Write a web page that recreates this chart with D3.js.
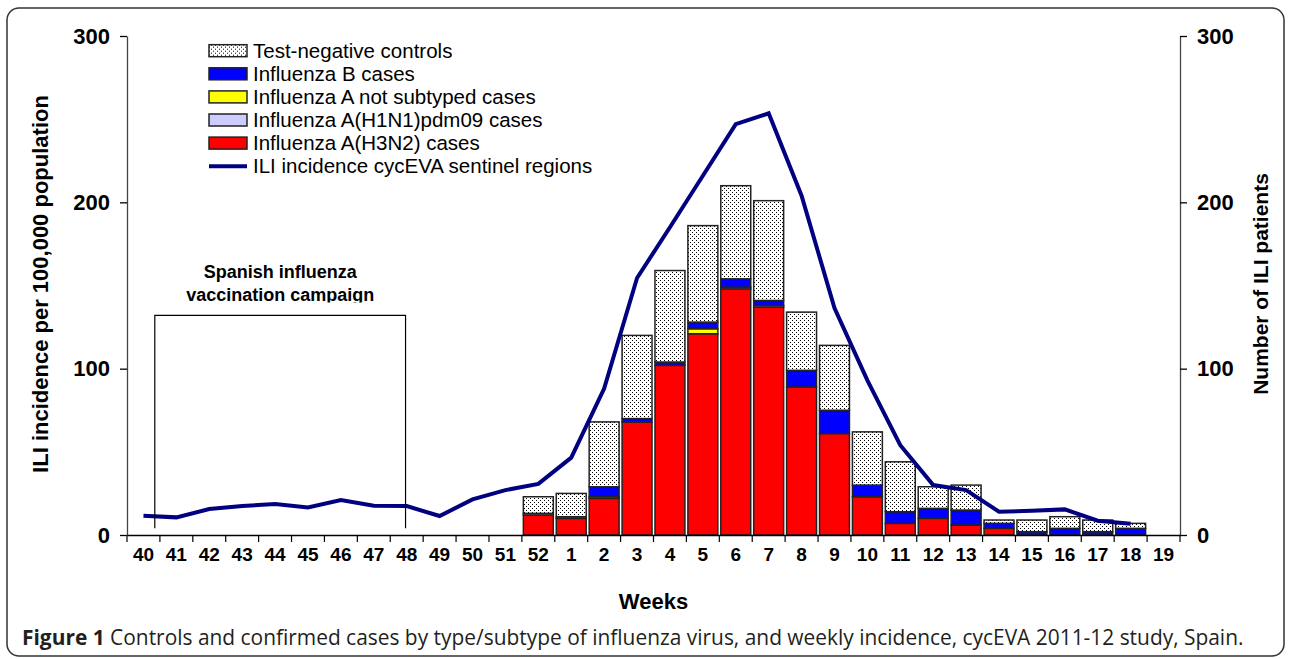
<!DOCTYPE html>
<html>
<head>
<meta charset="utf-8">
<script src="https://cdn.jsdelivr.net/npm/d3@7"></script>
<style>
body { margin: 0; background: #fff; }
svg { display: block; }
</style>
</head>
<body>
<script>
// weeks of the 2011-12 season
var weeks = ["40","41","42","43","44","45","46","47","48","49","50","51","52",
             "1","2","3","4","5","6","7","8","9","10","11","12","13","14","15","16","17","18","19"];

// number of ILI patients per week, by type
var h3n2     = [0,0,0,0,0,0,0,0,0,0,0,0,12, 10,22,68,102,121,148,137,89,61,23,7,10,6,4,0,0,0,0,0];
var h1n1     = [0,0,0,0,0,0,0,0,0,0,0,0,1,  1,1,0,0,0,1,1,0,0,0,0,0,0,0,0,0,0,0,0];
var notSub   = [0,0,0,0,0,0,0,0,0,0,0,0,0,  0,0,0,0,3,0,0,0,0,0,0,0,0,0,0,0,0,0,0];
var fluB     = [0,0,0,0,0,0,0,0,0,0,0,0,0,  0,6,2,2,4,5,3,10,14,7,7,6,9,3,2,4,2,4,0];
var controls = [0,0,0,0,0,0,0,0,0,0,0,0,10, 14,39,50,55,58,56,60,35,39,32,30,13,15,2,7,7,7,3,0];

// ILI incidence per 100,000 (cycEVA sentinel regions)
var incidence = [11.6,10.6,15.6,17.4,18.6,16.6,21,17.6,17.4,11.4,21.4,27,30.7,
                 46.5,88,154.5,185,216,247,253.5,204,136.5,93,54,30,27,14,14.6,15.4,8.6,6.8,null];

var yTicks = [0,100,200,300];

// vaccination campaign, from week 40 to week 48 (fraction = position inside the week)
var campaign = {from: "40", fromFrac: 0.8, to: "48", toFrac: 0.42, top: 132, bottom: 4};

var legendLabels = ["Test-negative controls", "Influenza B cases", "Influenza A not subtyped cases",
                    "Influenza A(H1N1)pdm09 cases", "Influenza A(H3N2) cases", "ILI incidence cycEVA sentinel regions"];

var keys = ["h3n2","h1n1","notSub","fluB","controls"];
var fills = {h3n2: "#ff0000", h1n1: "#ccccff", notSub: "#ffff00", fluB: "#0000ff", controls: "url(#dots)"};
var legendFills = ["url(#dots)", "#0000ff", "#ffff00", "#ccccff", "#ff0000", null];

var W = 1289, H = 659;
var FONT = "Arial, 'Liberation Sans', Helvetica, sans-serif";
var svg = d3.select("body").append("svg").attr("width", W).attr("height", H)
    .style("font-family", FONT);

var defs = svg.append("defs");
var pat = defs.append("pattern").attr("id", "dots")
    .attr("width", 4).attr("height", 4).attr("patternUnits", "userSpaceOnUse");
pat.append("rect").attr("width", 4).attr("height", 4).attr("fill", "#fff");
pat.append("rect").attr("x", 0).attr("y", 0).attr("width", 1).attr("height", 1).attr("fill", "#000");
pat.append("rect").attr("x", 2).attr("y", 2).attr("width", 1).attr("height", 1).attr("fill", "#000");

// outer frame
svg.append("rect").attr("x", 7).attr("y", 8).attr("width", 1277).attr("height", 648)
    .attr("rx", 12).attr("fill", "none").attr("stroke", "#333").attr("stroke-width", 1.5);

var plotL = 127, plotR = 1180, plotT = 36, plotB = 535;

var x = d3.scaleBand().domain(weeks).range([plotL, plotR]).paddingInner(0.09).paddingOuter(0.045);
var yBars = d3.scaleLinear().domain([0, 300]).range([plotB, plotT]);
var yLine = d3.scaleLinear().domain([0, 300]).range([plotB, plotT]);

// stacked bars
var rows = weeks.map(function(w, i) {
    return {week: w, h3n2: h3n2[i], h1n1: h1n1[i], notSub: notSub[i], fluB: fluB[i], controls: controls[i]};
});
var series = d3.stack().keys(keys)(rows);

svg.append("g").selectAll("g")
    .data(series)
    .enter().append("g")
    .attr("fill", function(s) { return fills[s.key]; })
    .selectAll("rect")
    .data(function(s) { return s.filter(function(d) { return d[1] - d[0] > 0; }); })
    .enter().append("rect")
    .attr("x", function(d) { return x(d.data.week); })
    .attr("width", x.bandwidth())
    .attr("y", function(d) { return yBars(d[1]); })
    .attr("height", function(d) { return yBars(d[0]) - yBars(d[1]); })
    .attr("stroke", "#222")
    .attr("stroke-width", 1.5);

// axes
var yl = svg.append("g").attr("transform", "translate(" + plotL + ",0)")
    .call(d3.axisLeft(yLine).tickValues(yTicks).tickSize(7).tickSizeOuter(0).tickPadding(10));
var yr = svg.append("g").attr("transform", "translate(" + plotR + ",0)")
    .call(d3.axisRight(yBars).tickValues(yTicks).tickSize(7).tickSizeOuter(0).tickPadding(10));
[yl, yr].forEach(function(g) {
    g.selectAll("text").attr("font-size", 22).attr("font-weight", "bold").attr("fill", "#000")
        .style("font-family", FONT);
    g.select(".domain").attr("stroke", "#444").attr("stroke-width", 1.3);
    g.selectAll(".tick line").attr("stroke", "#000").attr("stroke-width", 1.3);
});

var xa = svg.append("g").attr("transform", "translate(0," + plotB + ")")
    .call(d3.axisBottom(x).tickSize(0).tickSizeOuter(0).tickPadding(13));
xa.selectAll("text").attr("font-size", 19).attr("font-weight", "bold").attr("fill", "#000")
    .style("font-family", FONT);
xa.select(".domain").attr("stroke", "#000").attr("stroke-width", 1.3);

// ticks between weeks
svg.append("g").selectAll("line")
    .data(d3.range(weeks.length + 1))
    .enter().append("line")
    .attr("x1", function(i) { return plotL + i * x.step(); })
    .attr("x2", function(i) { return plotL + i * x.step(); })
    .attr("y1", plotB).attr("y2", plotB + 7)
    .attr("stroke", "#000").attr("stroke-width", 1.2);

// incidence line
var line = d3.line()
    .defined(function(d) { return d.v != null; })
    .x(function(d) { return x(d.w) + x.bandwidth() / 2; })
    .y(function(d) { return yLine(d.v); });
svg.append("path")
    .datum(weeks.map(function(w, i) { return {w: w, v: incidence[i]}; }))
    .attr("d", line)
    .attr("fill", "none").attr("stroke", "#000080").attr("stroke-width", 4)
    .attr("stroke-linejoin", "miter");

// vaccination campaign bracket
var cx0 = x(campaign.from) + campaign.fromFrac * x.step();
var cx1 = x(campaign.to) + campaign.toFrac * x.step();
var cyT = yLine(campaign.top), cyB = yLine(campaign.bottom);
svg.append("path")
    .attr("d", "M" + cx0 + "," + cyB + "V" + cyT + "H" + cx1 + "V" + cyB)
    .attr("fill", "none").attr("stroke", "#000").attr("stroke-width", 1.2);

defs.append("clipPath").attr("id", "campClip")
    .append("rect").attr("x", 0).attr("y", 0).attr("width", W).attr("height", cyT - 13);
var ct = svg.append("text").attr("clip-path", "url(#campClip)")
    .attr("text-anchor", "middle").attr("font-size", 18).attr("font-weight", "bold");
ct.append("tspan").attr("x", (cx0 + cx1) / 2).attr("y", cyT - 37).text("Spanish influenza");
ct.append("tspan").attr("x", (cx0 + cx1) / 2).attr("y", cyT - 14).text("vaccination campaign");

// legend
var lg = svg.append("g").selectAll("g")
    .data(legendLabels)
    .enter().append("g")
    .attr("transform", function(d, i) { return "translate(209," + (50.7 + i * 23.1) + ")"; });
lg.each(function(d, i) {
    var g = d3.select(this);
    if (legendFills[i]) {
        g.append("rect").attr("x", 0).attr("y", -6).attr("width", 38).attr("height", 12)
            .attr("fill", legendFills[i]).attr("stroke", "#222").attr("stroke-width", 1.5);
    } else {
        g.append("line").attr("x1", 0).attr("x2", 38).attr("y1", 0).attr("y2", 0)
            .attr("stroke", "#000080").attr("stroke-width", 4);
    }
    g.append("text").attr("x", 44).attr("y", 7).attr("font-size", 20.5).attr("fill", "#000").text(d);
});

// axis titles
svg.append("text").attr("transform", "translate(48,284) rotate(-90)")
    .attr("text-anchor", "middle").attr("font-size", 22).attr("font-weight", "bold")
    .text("ILI incidence per 100,000 population");
svg.append("text").attr("transform", "translate(1268,284) rotate(-90)")
    .attr("text-anchor", "middle").attr("font-size", 21).attr("font-weight", "bold")
    .text("Number of ILI patients");
svg.append("text").attr("x", (plotL + plotR) / 2).attr("y", 609)
    .attr("text-anchor", "middle").attr("font-size", 22).attr("font-weight", "bold")
    .text("Weeks");

// caption
var cap = svg.append("text").attr("x", 22).attr("y", 645)
    .attr("font-size", 17).attr("fill", "#231f20")
    .style("font-family", "'Open Sans', 'Noto Sans', sans-serif");
cap.append("tspan").attr("font-weight", "bold").text("Figure 1");
cap.append("tspan").text(" Controls and confirmed cases by type/subtype of influenza virus, and weekly incidence, cycEVA 2011-12 study, Spain.");
var cw = cap.node().getComputedTextLength();
cap.attr("font-size", 17 * 1222 / cw);
</script>
</body>
</html>
